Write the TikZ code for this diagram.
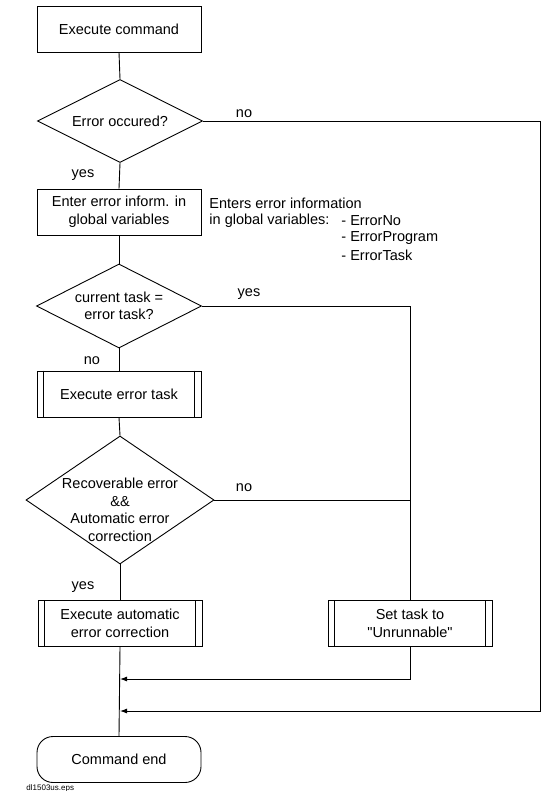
\documentclass[tikz,border=0pt]{standalone}
\usepackage{fontspec}
\setmainfont{Liberation Sans}
\newfontfamily\nomapfont{Liberation Sans}
\usetikzlibrary{shapes.geometric,arrows.meta}
\newcommand{\subrlines}[1]{%
  \draw ([xshift=7pt]#1.north west) -- ([xshift=7pt]#1.south west);
  \draw ([xshift=-7pt]#1.north east) -- ([xshift=-7pt]#1.south east);}
\begin{document}
\begin{tikzpicture}[x=1pt,y=-1pt,line width=0.9pt,
  every node/.style={font=\fontsize{14.5}{17.5}\selectfont},
  box/.style={draw, minimum width=164pt, minimum height=46pt, align=center, inner sep=0pt},
  dia/.style={draw, shape=diamond, inner sep=0pt},
  txt/.style={align=center, inner sep=0pt},
  lbl/.style={inner sep=0pt},
  arr/.style={-{Latex[length=7pt,width=5pt]}}
]
\useasboundingbox (0,0) rectangle (548,791);

% nodes
\node[box] (cmd) at (119,29) {Execute command};
\node[dia, minimum width=165pt, minimum height=83pt] (d1) at (120,121) {};
\node[txt] (d1t) at (120,121) {Error occured?};
\node[box] (info) at (119,212) {Enter error inform. in\\global variables};
\node[dia, minimum width=165pt, minimum height=84pt] (d2) at (119,306) {};
\node[txt] (d2t) at (119,306) {current task =\\error task?};
\node[box] (etask) at (119,394) {Execute error task};
\subrlines{etask}
\node[dia, minimum width=188pt, minimum height=128pt] (d3) at (120,500) {};
\node[txt] (d3t) at (120,510) {Recoverable error\\\&\&\\Automatic error\\correction};
\node[box] (auto) at (120,623.5) {Execute automatic\\error correction};
\subrlines{auto}
\node[box] (unrun) at (410,623.5) {Set task to\\{\nomapfont"Unrunnable"}};
\subrlines{unrun}
\node[box, rounded corners=16pt] (cend) at (119,759.5) {Command end};

% annotation
\node[lbl, anchor=west] (an1) at (209,203) {Enters error information};
\node[lbl, anchor=west] (an2) at (209,220.5) {in global variables:};
\node[lbl, anchor=west] (an3) at (341,220.5) {- ErrorNo};
\node[lbl, anchor=west] (an4) at (341,238.5) {- ErrorProgram};
\node[lbl, anchor=west] (an5) at (341,255.5) {- ErrorTask};

% labels
\node[lbl] (l1) at (244,114) {no};
\node[lbl] (l2) at (83,175) {yes};
\node[lbl] (l3) at (249,294) {yes};
\node[lbl] (l4) at (92,361) {no};
\node[lbl] (l5) at (244,488) {no};
\node[lbl] (l6) at (83,587) {yes};
\node[lbl, anchor=north west, font=\fontsize{8}{9}\selectfont] (file) at (26,784) {dl1503us.eps};

% coordinates
\coordinate (j1) at (540,121);
\coordinate (j2) at (540,711);
\coordinate (m2) at (120,711);
\coordinate (j3) at (410,306);
\coordinate (j4) at (410,500);
\coordinate (j5) at (410,679);
\coordinate (m1) at (120,679);

% flow
\draw (cmd.south) -- (d1.north);
\draw (d1.south) -- (info.north);
\draw (info.south) -- (d2.north);
\draw (d2.south) -- (etask.north);
\draw (etask.south) -- (d3.north);
\draw (d3.south) -- (auto.north);
\draw (auto.south) -- (cend.north);
\draw (d2.east) -- (j3) -- (unrun.north);
\draw (d3.east) -- (j4);
\draw[arr] (unrun.south) -- (j5) -- (m1);
\draw[arr] (d1.east) -- (j1) -- (j2) -- (m2);
\end{tikzpicture}
\end{document}
